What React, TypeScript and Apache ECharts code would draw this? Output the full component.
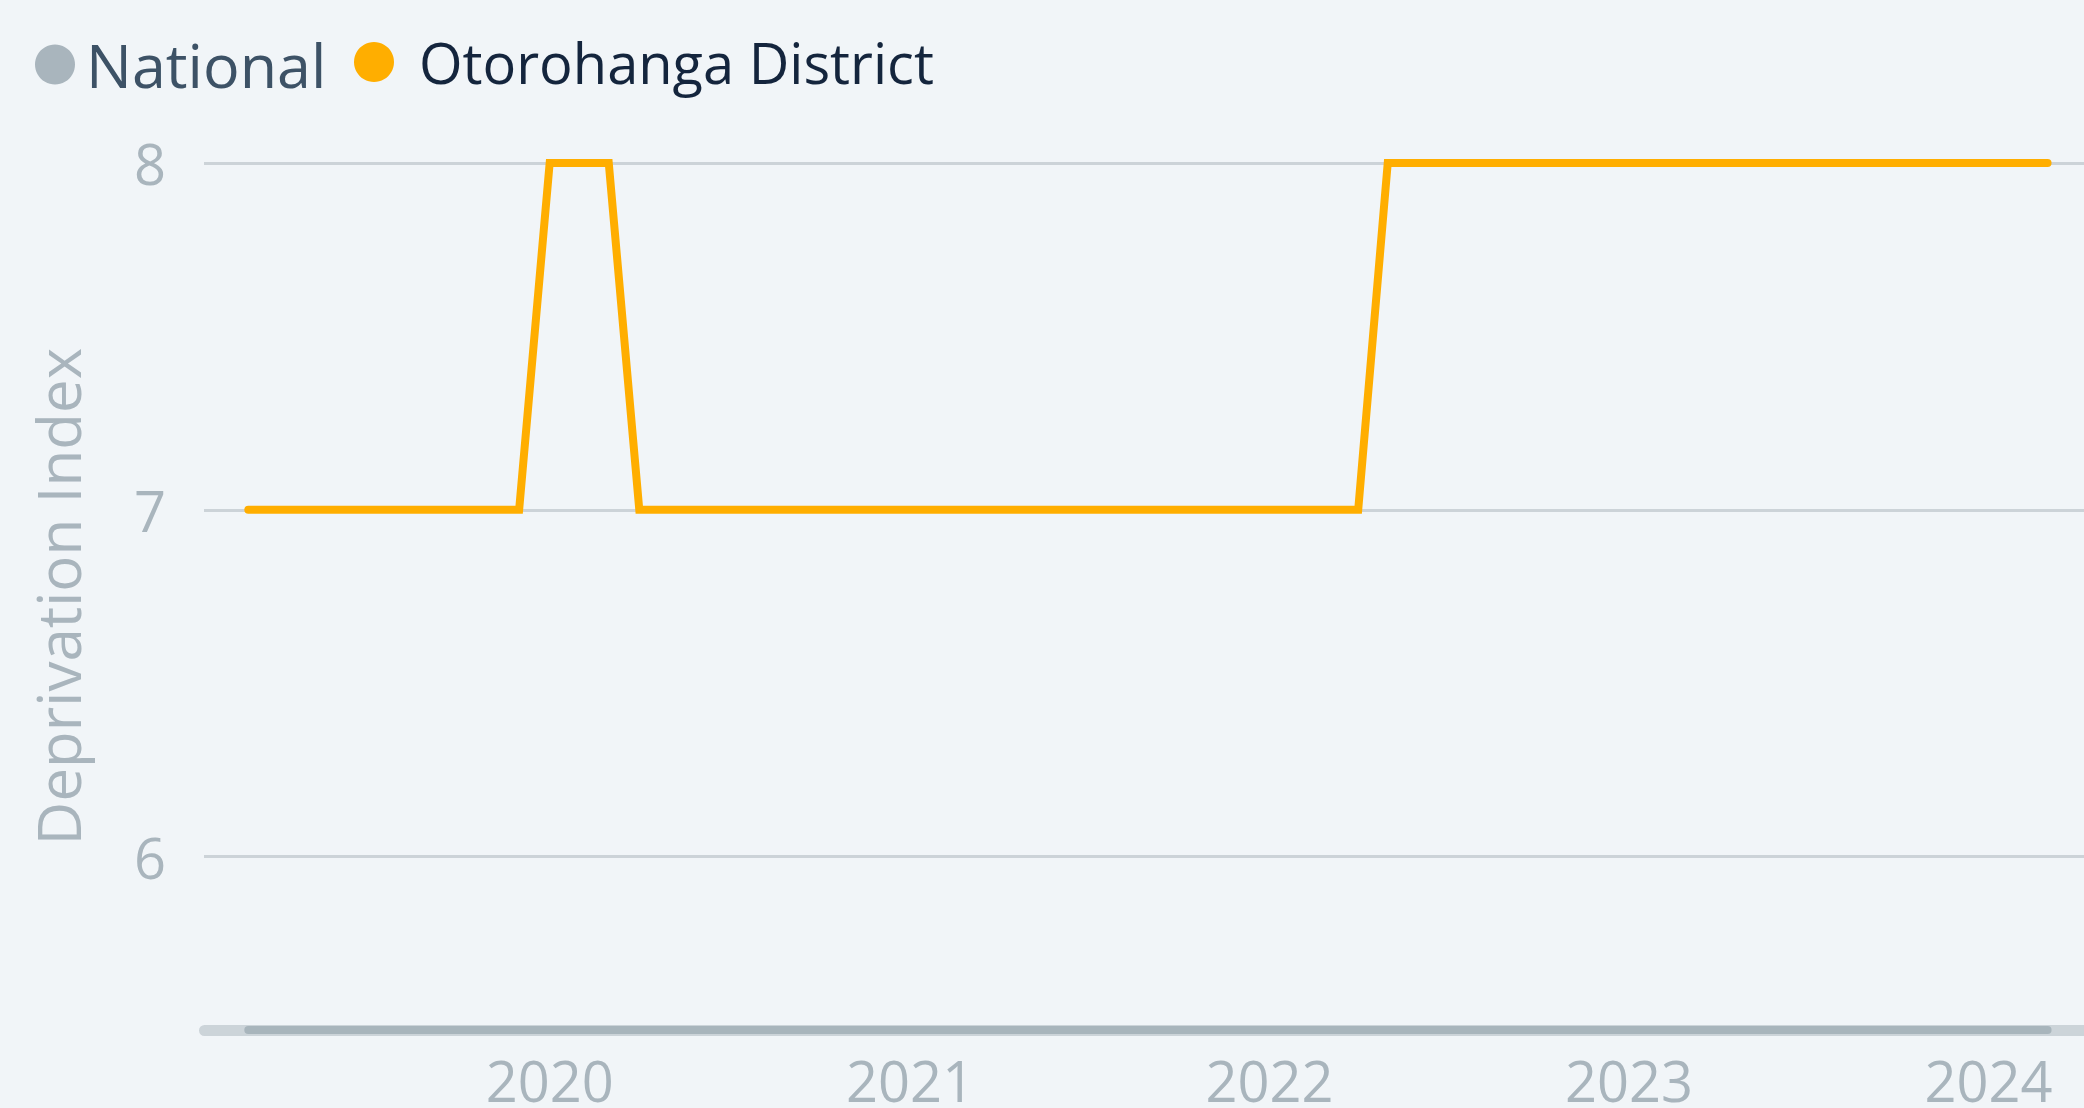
import React, { useEffect, useRef } from "react";
import * as echarts from "echarts";

// Monthly observation dates (first of month)
const months = [
  "2019-03-01", "2019-04-01", "2019-05-01", "2019-06-01", "2019-07-01", "2019-08-01",
  "2019-09-01", "2019-10-01", "2019-11-01", "2019-12-01",
  "2020-01-01", "2020-02-01", "2020-03-01", "2020-04-01", "2020-05-01", "2020-06-01",
  "2020-07-01", "2020-08-01", "2020-09-01", "2020-10-01", "2020-11-01", "2020-12-01",
  "2021-01-01", "2021-02-01", "2021-03-01", "2021-04-01", "2021-05-01", "2021-06-01",
  "2021-07-01", "2021-08-01", "2021-09-01", "2021-10-01", "2021-11-01", "2021-12-01",
  "2022-01-01", "2022-02-01", "2022-03-01", "2022-04-01", "2022-05-01", "2022-06-01",
  "2022-07-01", "2022-08-01", "2022-09-01", "2022-10-01", "2022-11-01", "2022-12-01",
  "2023-01-01", "2023-02-01", "2023-03-01", "2023-04-01", "2023-05-01", "2023-06-01",
  "2023-07-01", "2023-08-01", "2023-09-01", "2023-10-01", "2023-11-01", "2023-12-01",
  "2024-01-01", "2024-02-01", "2024-03-01",
];

// Otorohanga District deprivation index, one per month above
const otorohangaValues = [
  7, 7, 7, 7, 7, 7, 7, 7, 7, 7,
  8, 8, 8, 7, 7, 7, 7, 7, 7, 7, 7, 7,
  7, 7, 7, 7, 7, 7, 7, 7, 7, 7, 7, 7,
  7, 7, 7, 7, 8, 8, 8, 8, 8, 8, 8, 8,
  8, 8, 8, 8, 8, 8, 8, 8, 8, 8, 8, 8,
  8, 8, 8,
];

// National series has no visible values in the reference
const nationalValues: [string, number][] = [];

const seriesNames = ["National", "Otorohanga District"];
const xRange = ["2019-01-15", "2024-04-07"];

const FONT = "'Open Sans', 'Noto Sans', sans-serif";
const GREY = "#a9b5bd";
const ORANGE = "#ffae00";

export default function App() {
  const ref = useRef<HTMLDivElement>(null);

  useEffect(() => {
    if (!ref.current) return;
    const chart = echarts.init(ref.current, null, { renderer: "svg" });
    const parse = (s: string) => echarts.number.parseDate(s).getTime();

    chart.setOption({
      animation: false,
      backgroundColor: "#f1f5f8",
      legend: [
        {
          data: [{ name: seriesNames[0], textStyle: { color: "#3d5266", fontSize: 61 } }],
          left: 35,
          top: 34,
          padding: 0,
          itemWidth: 40,
          itemHeight: 40,
          icon: "circle",
          selectedMode: false,
          textStyle: { fontSize: 61, fontFamily: FONT, padding: [0, 0, 0, 6] },
        },
        {
          data: [{ name: seriesNames[1], textStyle: { color: "#14253d" } }],
          left: 354,
          top: 34,
          padding: 0,
          itemWidth: 40,
          itemHeight: 40,
          icon: "circle",
          selectedMode: false,
          textStyle: { fontSize: 56, fontFamily: FONT, padding: [0, 0, 0, 20] },
        },
      ],
      grid: { left: 204, top: 163, right: 0, height: 868, containLabel: false },
      xAxis: {
        type: "time",
        min: parse(xRange[0]),
        max: parse(xRange[1]),
        splitNumber: 5,
        axisLine: { show: false },
        axisTick: { show: false },
        splitLine: { show: false },
        axisLabel: {
          formatter: (v: number) => {
            const d = new Date(v);
            return d.getMonth() === 0 && d.getDate() === 1 ? String(d.getFullYear()) : "";
          },
          fontSize: 56,
          fontFamily: FONT,
          color: GREY,
          margin: 22,
          hideOverlap: false,
        },
      },
      yAxis: {
        type: "value",
        min: 5.5,
        max: 8,
        interval: 0.5,
        name: "Deprivation Index",
        nameLocation: "middle",
        nameGap: 116,
        nameTextStyle: { fontSize: 60, fontFamily: FONT, color: GREY },
        axisLine: { show: false },
        axisTick: { show: false },
        axisLabel: {
          formatter: (v: number) => (Number.isInteger(v) ? String(v) : ""),
          fontSize: 56,
          fontFamily: FONT,
          color: GREY,
          margin: 38,
        },
        splitLine: { lineStyle: { color: ["transparent", "#ccd3d8"], width: 3 } },
      },
      series: [
        {
          name: seriesNames[0],
          type: "line",
          data: nationalValues,
          color: GREY,
          showSymbol: false,
        },
        {
          name: seriesNames[1],
          type: "line",
          data: months.map((d, i) => [parse(d), otorohangaValues[i]]),
          color: ORANGE,
          showSymbol: false,
          silent: true,
          lineStyle: { width: 8, color: ORANGE, cap: "round", join: "miter" },
        },
      ],
    });

    const x0 = chart.convertToPixel({ xAxisIndex: 0 }, parse(months[0])) as number;
    const x1 = chart.convertToPixel({ xAxisIndex: 0 }, parse(months[months.length - 1])) as number;
    chart.setOption({
      graphic: [
        {
          type: "rect",
          silent: true,
          shape: { x: 199, y: 1025, width: 2100 - 199, height: 11, r: 5.5 },
          style: { fill: "#ccd4d9" },
        },
        {
          type: "rect",
          silent: true,
          shape: { x: x0 - 4, y: 1026, width: x1 - x0 + 8, height: 8, r: 4 },
          style: { fill: "#a8b5bc" },
        },
      ],
    });

    return () => chart.dispose();
  }, []);

  return (
    <div
      ref={ref}
      style={{ position: "fixed", left: 0, top: 0, width: 2084, height: 1108 }}
    />
  );
}
